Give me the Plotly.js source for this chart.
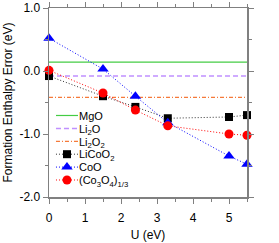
<!DOCTYPE html>
<html><head><meta charset="utf-8">
<script src="https://cdn.plot.ly/plotly-3.0.1.min.js"></script>
<style>html,body{margin:0;padding:0;background:#fff;}#c{width:279px;height:243px;}</style>
</head><body><div id="c"></div>
<script>
const U = [0, 1.5, 2.4, 3.3, 5, 5.5];
const refX = [0, 5.5];
const MgO = 0.14;
const Li2O = -0.08;
const Li2O2 = -0.42;
const LiCoO2 = [-0.08, -0.40, -0.57, -0.75, -0.73, -0.70];
const CoO = [0.52, 0.03, -0.40, -0.82, -1.35, -1.48];
const Co3O4 = [0.01, -0.35, -0.62, -0.87, -1.00, -1.02];
const names = ['MgO', 'Li<sub>2</sub>O', 'Li<sub>2</sub>O<sub>2</sub>', 'LiCoO<sub>2</sub>', 'CoO', '(Co<sub>3</sub>O<sub>4</sub>)<sub>1/3</sub>'];

const traces = [
  {x: refX, y: [MgO, MgO], name: names[0], mode: 'lines', line: {color: '#44cc44', width: 1.2}},
  {x: refX, y: [Li2O, Li2O], name: names[1], mode: 'lines', line: {color: '#c090ff', width: 1.5, dash: '5px,3px'}},
  {x: refX, y: [Li2O2, Li2O2], name: names[2], mode: 'lines', line: {color: '#f57a3a', width: 1.2, dash: '4px,2px,1px,2px'}},
  {x: U, y: LiCoO2, name: names[3], mode: 'lines+markers', cliponaxis: false,
   line: {color: '#333333', width: 1, dash: '1px,2px'}, marker: {symbol: 'square', size: 8, color: '#000'}},
  {x: U, y: CoO, name: names[4], mode: 'lines+markers', cliponaxis: false,
   line: {color: '#0000ff', width: 1, dash: '1px,2px'}, marker: {symbol: 'triangle-up', size: 10, color: '#0000ff'}},
  {x: U, y: Co3O4, name: names[5], mode: 'lines+markers', cliponaxis: false,
   line: {color: '#ff0000', width: 1, dash: '1px,2px'}, marker: {symbol: 'circle', size: 9, color: '#ff0000'}}
];

const axisCommon = {
  showgrid: false, zeroline: false, showline: true, linecolor: '#808080', linewidth: 1.5,
  mirror: 'ticks', ticks: 'outside', ticklen: 5, tickwidth: 1, tickcolor: '#808080',
  tickfont: {family: 'Liberation Sans, Arial, sans-serif', size: 12, color: '#000'}
};

const layout = {
  width: 279, height: 243,
  margin: {l: 49, r: 32, t: 8, b: 46},
  paper_bgcolor: '#fff', plot_bgcolor: '#fff',
  font: {family: 'Liberation Sans, Arial, sans-serif', color: '#000'},
  xaxis: Object.assign({}, axisCommon, {
    range: [0, 5.5], tickvals: [0, 1, 2, 3, 4, 5], ticktext: ['0', '1', '2', '3', '4', '5'],
    ticklabelstandoff: 4,
    minor: {dtick: 0.5, tick0: 0, ticks: 'outside', ticklen: 3, tickcolor: '#808080'},
    title: {text: 'U (eV)', font: {size: 12}, standoff: 6}
  }),
  yaxis: Object.assign({}, axisCommon, {
    range: [-2, 1], tickvals: [-2, -1, 0, 1], ticktext: ['-2.0', '-1.0', '0.0', '1.0'],
    minor: {dtick: 0.5, tick0: 0, ticks: 'outside', ticklen: 3, tickcolor: '#808080'},
    title: {text: 'Formation Enthalpy Error (eV)', font: {size: 12}, standoff: 4}
  }),
  showlegend: true,
  legend: {x: 0.01, y: 0.508, xanchor: 'left', yanchor: 'top', bgcolor: 'rgba(0,0,0,0)',
    font: {size: 11}, itemwidth: 30, tracegroupgap: 0}
};

Plotly.newPlot('c', traces, layout, {staticPlot: true, displayModeBar: false}).then(function (gd) {
  // compact the legend rows to match the reference spacing
  const items = gd.querySelectorAll('.legend .traces');
  let x0 = 0, y0 = 0;
  items.forEach(function (g, i) {
    const m = /translate\(([-\d.e]+)[ ,]+([-\d.e]+)\)/.exec(g.getAttribute('transform') || '');
    if (i === 0 && m) { x0 = +m[1]; y0 = +m[2]; }
    g.setAttribute('transform', 'translate(' + x0 + ',' + (y0 + i * 12.9) + ')');
    g.querySelectorAll('.legendlines path').forEach(function (p) { p.setAttribute('d', 'M5,0h22'); });
    g.querySelectorAll('.scatterpts').forEach(function (p) { p.setAttribute('transform', 'translate(16,0)'); });
    g.querySelectorAll('.legendtext').forEach(function (t) { t.setAttribute('x', '28'); });
  });
});
</script></body></html>
